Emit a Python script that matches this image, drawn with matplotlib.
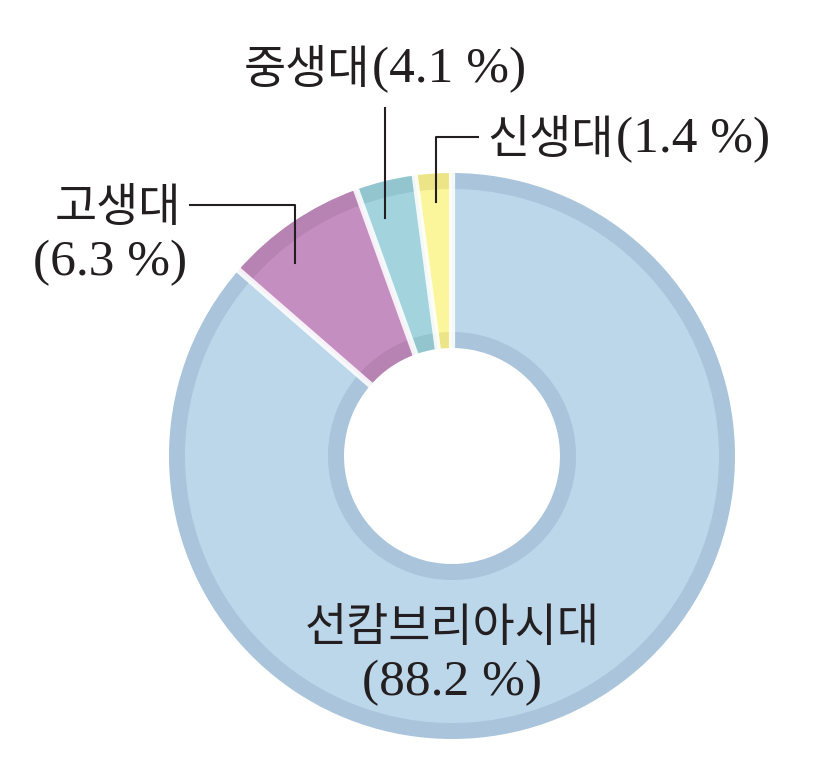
import numpy as np
import matplotlib
matplotlib.use("Agg")
import matplotlib.pyplot as plt

# 지질 시대별 길이 비율 (그림에 표시된 값)
eras = ['선캄브리아시대', '고생대', '중생대', '신생대']
pct_labels = ['(88.2 %)', '(6.3 %)', '(4.1 %)', '(1.4 %)']
# 그림에서 실제로 그려진 조각 크기 (눈으로 읽은 값)
drawn_share = [86.4, 8.1, 3.4, 2.1]

fill_colors = ['#bcd6ea', '#c48fc0', '#a3d4dd', '#fbf59b']
band_colors = ['#a9c4db', '#b683b3', '#92c5ce', '#ebe588']

W, H = 822, 760
cx, cy = 452, H - 456
R_out, R_in = 283, 108
band = 16

fig = plt.figure(figsize=(W / 100, H / 100), dpi=100)
ax = fig.add_axes([0, 0, 1, 1])

# 바깥/안쪽 테두리 (진한 색)
ax.pie(drawn_share, colors=band_colors, radius=R_out, center=(cx, cy),
       startangle=90, counterclock=False,
       wedgeprops=dict(width=R_out - R_in, edgecolor='none', linewidth=0))
# 안쪽 채우기 (연한 색)
ax.pie(drawn_share, colors=fill_colors, radius=R_out - band, center=(cx, cy),
       startangle=90, counterclock=False,
       wedgeprops=dict(width=R_out - R_in - 2 * band, edgecolor='none', linewidth=0))

# 조각 사이 흰 틈
cum = np.cumsum([0] + drawn_share[:-1])
for c in cum:
    th = np.deg2rad(90 - 360 * c / sum(drawn_share))
    ax.plot([cx + (R_in - 2) * np.cos(th), cx + (R_out + 2) * np.cos(th)],
            [cy + (R_in - 2) * np.sin(th), cy + (R_out + 2) * np.sin(th)],
            color='white', alpha=0.88, lw=4.5, solid_capstyle='butt', zorder=3)

kor = ['Noto Sans CJK KR']
num = ['Liberation Serif', 'DejaVu Serif']
fs_k = 33
fs_n = 37
tc = '#231f20'

# 선캄브리아시대
ax.text(cx, H - 628, eras[0], ha='center', va='center', fontsize=fs_k, family=kor, color=tc, zorder=5)
ax.text(cx, H - 683, pct_labels[0], ha='center', va='center', fontsize=fs_n, family=num, color=tc, zorder=5)

# 고생대
ax.text(118, H - 208, eras[1], ha='center', va='center', fontsize=fs_k, family=kor, color=tc)
ax.text(110, H - 263, pct_labels[1], ha='center', va='center', fontsize=fs_n, family=num, color=tc)
ax.plot([190, 295, 295], [H - 205, H - 205, H - 263], color=tc, lw=1.5, zorder=6)

# 중생대
ax.text(370, H - 70, eras[2], ha='right', va='center', fontsize=fs_k, family=kor, color=tc)
ax.text(372, H - 70, pct_labels[2], ha='left', va='center', fontsize=fs_n, family=num, color=tc)
ax.plot([385, 385], [H - 108, H - 218], color=tc, lw=1.5, zorder=6)

# 신생대
ax.text(614, H - 140, eras[3], ha='right', va='center', fontsize=fs_k, family=kor, color=tc)
ax.text(616, H - 140, pct_labels[3], ha='left', va='center', fontsize=fs_n, family=num, color=tc)
ax.plot([478, 436, 436], [H - 137, H - 137, H - 202], color=tc, lw=1.5, zorder=6)

ax.set_xlim(0, W)
ax.set_ylim(0, H)
ax.set_aspect('equal')
ax.axis('off')

fig.savefig('out.png', dpi=100)
